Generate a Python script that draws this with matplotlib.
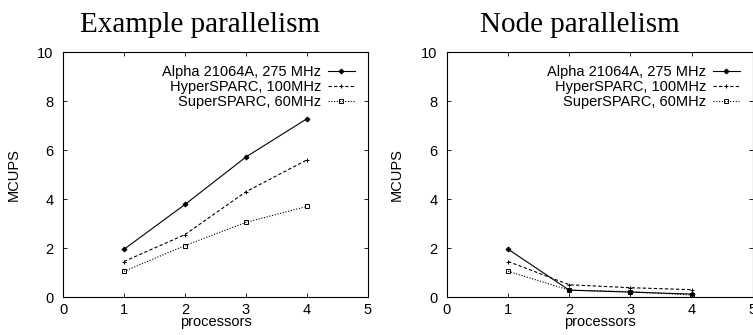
import matplotlib
matplotlib.use("Agg")
import matplotlib.pyplot as plt

processors = [1, 2, 3, 4]
series_names = ["Alpha 21064A, 275 MHz", "HyperSPARC, 100MHz", "SuperSPARC, 60MHz"]

# Example parallelism
ex_alpha = [1.95, 3.78, 5.72, 7.28]
ex_hyper = [1.45, 2.55, 4.30, 5.60]
ex_super = [1.05, 2.10, 3.05, 3.70]

# Node parallelism
node_alpha = [1.95, 0.28, 0.20, 0.12]
node_hyper = [1.45, 0.50, 0.38, 0.30]
node_super = [1.05, 0.28, 0.22, 0.08]

titles = ["Example parallelism", "Node parallelism"]
xticks = [0, 1, 2, 3, 4, 5]
yticks = [0, 2, 4, 6, 8, 10]

plt.rcParams["font.family"] = ["Liberation Sans", "DejaVu Sans"]

fig = plt.figure(figsize=(7.53, 3.35), dpi=100)
ax1 = fig.add_axes([0.0837, 0.1134, 0.405, 0.731])
ax2 = fig.add_axes([0.5936, 0.1134, 0.406, 0.731])

styles = [
    dict(ls="-", marker="D", ms=2.5, mfc="black"),
    dict(ls=(0, (3, 2)), marker="+", ms=3.5),
    dict(ls=(0, (1, 1.5)), marker="s", ms=3.2, mfc="none"),
]

data = [(ex_alpha, ex_hyper, ex_super), (node_alpha, node_hyper, node_super)]
title_x = [0.449, 0.435]

for ax, title, ys, tx in zip([ax1, ax2], titles, data, title_x):
    for y, name, st in zip(ys, series_names, styles):
        ax.plot(processors, y, color="black", lw=0.8, mew=0.7, label=name, **st)
    ax.set_xlim(0, 5)
    ax.set_ylim(0, 10)
    ax.set_xticks(xticks)
    ax.set_yticks(yticks)
    ax.tick_params(direction="in", top=True, right=True, length=3, width=0.6,
                   labelsize=10.5)
    ax.tick_params(axis="x", pad=4)
    ax.tick_params(axis="y", pad=7)
    for s in ax.spines.values():
        s.set_linewidth(0.8)
    ax.set_xlabel("processors", fontsize=10.5, labelpad=-1)
    ax.set_ylabel("MCUPS", fontsize=10.5, labelpad=12)
    ax.text(tx, 1.082, title, transform=ax.transAxes, ha="center", va="baseline",
            fontsize=21, family=["Liberation Serif"])
    ax.legend(loc="upper right", frameon=False, markerfirst=False, fontsize=10.5,
              handlelength=1.85, labelspacing=0.05, borderaxespad=0.5,
              handletextpad=0.45, borderpad=0.4)

fig.savefig("out.png", dpi=100)
